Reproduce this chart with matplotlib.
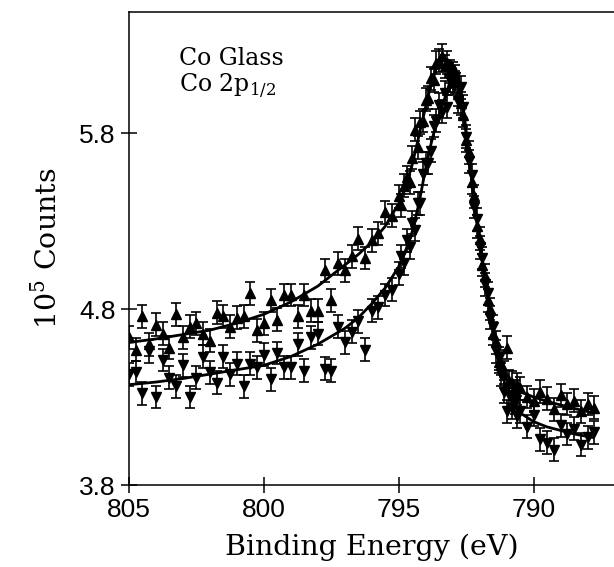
import matplotlib
matplotlib.use("Agg")
import matplotlib.pyplot as plt

# binding energy grid (eV), shared by both spectra
energy = [805.00, 804.75, 804.50, 804.25, 804.00, 803.75, 803.50, 803.25, 803.00, 802.75,
          802.50, 802.25, 802.00, 801.75, 801.50, 801.25, 801.00, 800.75, 800.50, 800.25,
          800.00, 799.75, 799.50, 799.25, 799.00, 798.75, 798.50, 798.25, 798.00, 797.75,
          797.50, 797.25, 797.00, 796.75, 796.50, 796.25, 796.00, 795.75, 795.50, 795.25,
          795.0, 794.9, 794.8, 794.7, 794.6, 794.5, 794.4, 794.3, 794.2, 794.1,
          794.0, 793.9, 793.8, 793.7, 793.6, 793.5, 793.4, 793.3, 793.2, 793.1,
          793.0, 792.9, 792.8, 792.7, 792.6, 792.5, 792.4, 792.3, 792.2, 792.1,
          792.0, 791.9, 791.8, 791.7, 791.6, 791.5, 791.4, 791.3, 791.2, 791.1,
          791.0, 790.9, 790.8, 790.7, 790.6,
          790.50, 790.25, 790.00, 789.75, 789.50, 789.25, 789.00, 788.75, 788.50, 788.25,
          788.00, 787.75]

# up triangles (10^5 counts)
counts_up = [4.64, 4.57, 4.76, 4.60, 4.71, 4.66, 4.58, 4.77, 4.64, 4.70,
             4.72, 4.66, 4.62, 4.78, 4.76, 4.70, 4.75, 4.76, 4.89, 4.68,
             4.72, 4.85, 4.74, 4.88, 4.88, 4.76, 4.88, 4.79, 4.79, 5.02,
             4.85, 5.06, 5.02, 5.10, 5.20, 5.09, 5.19, 5.23, 5.35, 5.33,
             5.44, 5.39, 5.50, 5.55, 5.52, 5.66, 5.82, 5.72, 5.86, 5.87,
             5.99, 6.00, 6.11, 6.10, 6.20, 6.21, 6.24, 6.18, 6.20, 6.15,
             6.14, 6.09, 6.02, 5.97, 5.90, 5.76, 5.69, 5.52, 5.44, 5.27,
             5.20, 5.05, 4.99, 4.85, 4.80, 4.66, 4.61, 4.50, 4.49, 4.44,
             4.58, 4.39, 4.38, 4.33, 4.37,
             4.35, 4.30, 4.28, 4.33, 4.29, 4.23, 4.31, 4.26, 4.28, 4.22,
             4.26, 4.24]

# down triangles (10^5 counts)
counts_down = [4.43, 4.44, 4.32, 4.56, 4.30, 4.51, 4.41, 4.36, 4.48, 4.30,
               4.41, 4.53, 4.44, 4.38, 4.53, 4.43, 4.49, 4.36, 4.49, 4.47,
               4.54, 4.40, 4.55, 4.47, 4.47, 4.60, 4.45, 4.64, 4.66, 4.46,
               4.45, 4.70, 4.61, 4.67, 4.73, 4.57, 4.79, 4.81, 4.88, 4.91,
               5.00, 5.10, 5.06, 5.19, 5.15, 5.29, 5.25, 5.40, 5.40, 5.57,
               5.63, 5.63, 5.70, 5.84, 5.87, 5.96, 5.92, 6.03, 5.95, 6.10,
               6.08, 6.12, 5.98, 6.06, 5.95, 5.78, 5.64, 5.56, 5.38, 5.31,
               5.15, 5.09, 4.94, 4.89, 4.75, 4.70, 4.56, 4.52, 4.43, 4.33,
               4.22, 4.31, 4.24, 4.27, 4.19,
               4.22, 4.13, 4.20, 4.06, 4.04, 4.00, 4.14, 4.09, 4.12, 4.03,
               4.07, 4.10]

count_err = 0.065

# fitted curves
fit_energy_up = [805.0, 804.0, 803.0, 802.0, 801.0, 800.0, 799.0, 798.0, 797.5, 797.0,
                 796.5, 796.0, 795.5, 795.0, 794.75, 794.5, 794.25, 794.0, 793.8, 793.6,
                 793.45, 793.3, 793.1, 792.95, 792.8, 792.7, 792.6, 792.5, 792.4, 792.2,
                 792.0, 791.8, 791.6, 791.4, 791.3, 791.2, 791.0, 790.8, 790.5, 790.0,
                 789.5, 789.0, 788.5, 787.8]
fit_up = [4.61, 4.63, 4.655, 4.68, 4.72, 4.77, 4.84, 4.93, 4.99, 5.05,
          5.11, 5.18, 5.27, 5.40, 5.49, 5.62, 5.785, 5.95, 6.08, 6.17,
          6.21, 6.22, 6.21, 6.175, 6.11, 6.04, 5.93, 5.80, 5.67, 5.41,
          5.18, 4.97, 4.78, 4.59, 4.52, 4.47, 4.40, 4.36, 4.33, 4.30,
          4.275, 4.255, 4.235, 4.21]

fit_energy_down = [805.0, 804.0, 803.0, 802.0, 801.0, 800.0, 799.0, 798.0, 797.5, 797.0,
                   796.5, 796.0, 795.5, 795.0, 794.75, 794.5, 794.25, 794.0, 793.8, 793.6,
                   793.4, 793.2, 793.05, 792.9, 792.8, 792.7, 792.6, 792.5, 792.4, 792.2,
                   792.0, 791.8, 791.6, 791.4, 791.2, 791.0, 790.8, 790.5, 790.0, 789.5,
                   789.0, 788.5, 787.8]
fit_down = [4.37, 4.385, 4.405, 4.43, 4.455, 4.48, 4.53, 4.60, 4.645, 4.69,
            4.75, 4.83, 4.92, 5.04, 5.13, 5.24, 5.40, 5.60, 5.74, 5.86,
            5.95, 6.04, 6.12, 6.17, 6.13, 6.05, 5.93, 5.80, 5.67, 5.41,
            5.18, 4.97, 4.78, 4.59, 4.45, 4.34, 4.27, 4.21, 4.16, 4.13,
            4.11, 4.09, 4.07]

x_ticks = [805, 800, 795, 790]
y_ticks = [3.8, 4.8, 5.8]

serif = "DejaVu Serif"
sans = "Liberation Sans"

fig = plt.figure(figsize=(6.14, 5.67), dpi=100)
ax = fig.add_axes([0.210, 0.1446, 0.790, 0.834])

for counts, mk in ((counts_up, "^"), (counts_down, "v")):
    ax.errorbar(energy, counts, yerr=count_err, fmt=mk, color="black",
                markersize=6.5, elinewidth=1.2, capsize=3.5, capthick=1.2)

ax.plot(fit_energy_up, fit_up, color="black", lw=2)
ax.plot(fit_energy_down, fit_down, color="black", lw=2)

ax.set_xlim(805, 787.02)
ax.set_ylim(3.8, 6.487)
ax.set_xticks(x_ticks)
ax.set_xticklabels([str(t) for t in x_ticks], family=sans, fontsize=19)
ax.set_yticks(y_ticks)
ax.set_yticklabels([f"{t:.1f}" for t in y_ticks], family=sans, fontsize=19)
ax.tick_params(direction="inout", length=11, width=1.1, pad=4)

ax.spines["right"].set_visible(False)
for s in ("left", "bottom", "top"):
    ax.spines[s].set_linewidth(1.1)

ax.set_xlabel("Binding Energy (eV)", family=serif, fontsize=20.5, labelpad=8)
ax.set_ylabel(r"10$^\mathregular{5}$ Counts", family=serif, fontsize=20.5, labelpad=12)

ax.text(0.103, 0.888, "Co Glass", transform=ax.transAxes, family=serif, fontsize=17)
ax.text(0.103, 0.831, r"Co 2p$_\mathregular{1/2}$", transform=ax.transAxes,
        family=serif, fontsize=17)

fig.savefig("out.png", dpi=100)
